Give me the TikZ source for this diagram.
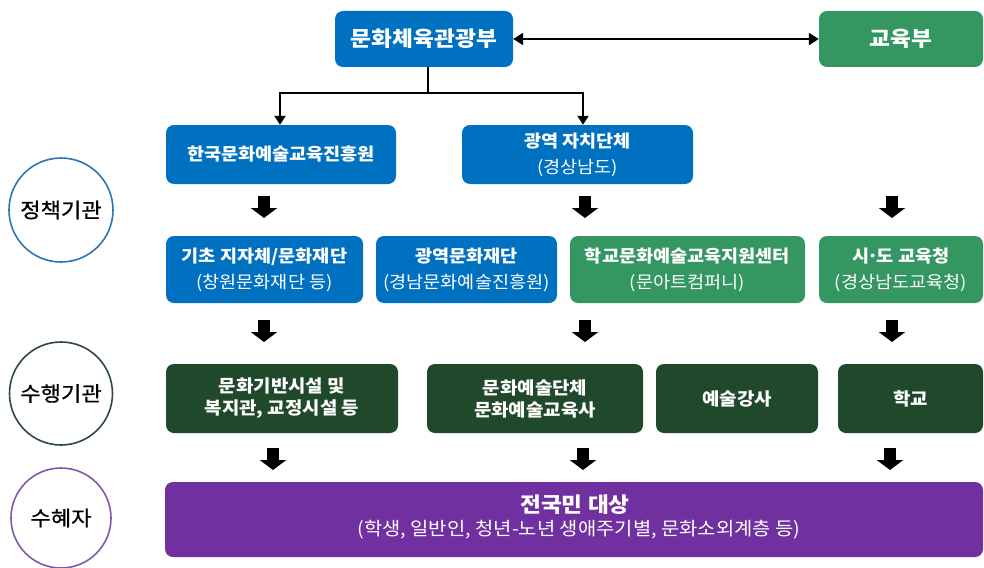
\documentclass[tikz,border=0pt]{standalone}
\usepackage{fontspec}
\setmainfont{Noto Sans CJK KR}[FakeStretch=1.08]
\newfontfamily\krmed{Noto Sans CJK KR}[FakeStretch=1.08,FakeBold=0.8]
\usetikzlibrary{arrows.meta}
\definecolor{kblue}{RGB}{0,112,192}
\definecolor{kgreen}{RGB}{52,150,96}
\definecolor{kdark}{RGB}{32,72,42}
\definecolor{kpurple}{RGB}{112,48,160}
\definecolor{cblue}{RGB}{46,117,182}
\definecolor{cdark}{RGB}{47,74,58}
\definecolor{cpurple}{RGB}{127,90,168}
\tikzset{
  box/.style={rounded corners=8pt, text=white, inner sep=0pt, align=center,
    font=\bfseries\fontsize{17.2pt}{26pt}\selectfont},
  bluebox/.style={box, fill=kblue},
  greenbox/.style={box, fill=kgreen},
  darkbox/.style={box, fill=kdark, font=\bfseries\fontsize{17.5pt}{22pt}\selectfont},
  topbox/.style={font=\bfseries\fontsize{21pt}{24pt}\selectfont},
  lvl/.style={circle, draw, line width=1.6pt, inner sep=0pt,
    font=\krmed\fontsize{20.5pt}{24pt}\selectfont, text=black},
  conn/.style={line width=2.3pt, draw=black},
  blk/.style={line width=12pt, draw=black, -{Triangle[width=26pt,length=10pt]}},
}
\begin{document}
\begin{tikzpicture}[x=1pt,y=-1pt]
\useasboundingbox (0,0) rectangle (984,567);

% level circles
\node[lvl, draw=cblue, minimum size=104pt] (c1) at (61,210) {정책기관};
\node[lvl, draw=cdark, minimum size=103pt] (c2) at (61,393.5) {수행기관};
\node[lvl, draw=cpurple, minimum size=100pt] (c3) at (61,518) {수혜자};

% top
\node[bluebox, topbox, minimum width=178pt, minimum height=56pt] (mcst) at (424,39) {문화체육관광부};
\node[greenbox, topbox, minimum width=164pt, minimum height=56pt] (moe) at (901,39) {교육부};

% row 1
\node[bluebox, minimum width=230pt, minimum height=59pt] (kace) at (281,154.5) {한국문화예술교육진흥원};
\node[bluebox, minimum width=231pt, minimum height=59pt] (gn) at (577.5,154.5) {광역 자치단체\\{\mdseries (경상남도)}};

% row 2
\node[bluebox, minimum width=197pt, minimum height=67pt] (basic) at (264.5,269.5) {기초 지자체/문화재단\\{\mdseries (창원문화재단 등)}};
\node[bluebox, minimum width=181pt, minimum height=67pt] (rfound) at (466.5,269.5) {광역문화재단\\{\mdseries (경남문화예술진흥원)}};
\node[greenbox, minimum width=235pt, minimum height=67pt] (scenter) at (687.5,269.5) {학교문화예술교육지원센터\\{\mdseries (문아트컴퍼니)}};
\node[greenbox, minimum width=164pt, minimum height=67pt] (office) at (901,269.5) {시\kern-0.12em·\kern-0.12em도 교육청\\{\mdseries (경상남도교육청)}};

% row 3
\node[darkbox, minimum width=232pt, minimum height=69pt] (fac) at (282,398.5) {문화기반시설 및\\복지관, 교정시설 등};
\node[darkbox, minimum width=216pt, minimum height=69pt] (grp) at (535,398.5) {문화예술단체\\문화예술교육사};
\node[darkbox, minimum width=162pt, minimum height=69pt] (tch) at (737,398.5) {예술강사};
\node[darkbox, minimum width=145pt, minimum height=69pt] (sch) at (910.5,398.5) {학교};

% beneficiaries
\node[box, fill=kpurple, minimum width=818pt, minimum height=75pt] (all) at (574,519.5) {};
\node[text=white, font=\bfseries\fontsize{21pt}{24pt}\selectfont, inner sep=0pt] (allt) at (575,505) {전국민 대상};
\node[text=white, font=\fontsize{18.4pt}{21pt}\selectfont, inner sep=0pt] (alls) at (579,530) {(학생, 일반인, 청년-노년 생애주기별, 문화소외계층 등)};

% connectors
\draw[conn, {Triangle[width=12pt,length=10pt]}-{Triangle[width=12pt,length=10pt]}] (mcst.east) -- (moe.west);
\coordinate (jn) at (428,93);
\draw[conn, -{Triangle[width=11pt,length=9pt]}] (mcst.south -| jn) -- (jn) -| (kace.north -| 280,0);
\draw[conn, -{Triangle[width=11pt,length=9pt]}] (jn) -| (gn.north -| 583,0);

% block arrows
\foreach \x/\n in {264/a,585/b,892/c}{
  \coordinate (r1\n s) at (\x,196); \coordinate (r1\n e) at (\x,218);
  \coordinate (r2\n s) at (\x,320); \coordinate (r2\n e) at (\x,342);
}
\foreach \x/\n in {273/a,583/b,890/c}{
  \coordinate (r3\n s) at (\x,448); \coordinate (r3\n e) at (\x,470);
}
\foreach \n in {a,b,c}{
  \draw[blk] (r1\n s) -- (r1\n e);
  \draw[blk] (r2\n s) -- (r2\n e);
  \draw[blk] (r3\n s) -- (r3\n e);
}
\end{tikzpicture}
\end{document}
